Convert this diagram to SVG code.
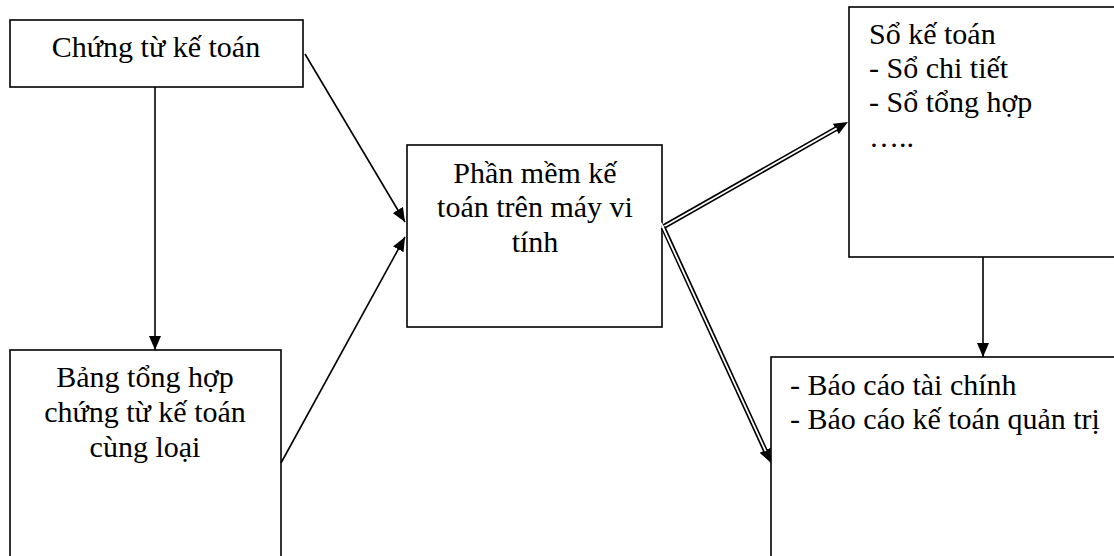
<svg xmlns="http://www.w3.org/2000/svg" width="1114" height="556" viewBox="0 0 1114 556">
<style>
.box{fill:#fff;stroke:#000;stroke-width:1.6}
.t{font-family:"Liberation Serif","Times New Roman",serif;font-size:30px;fill:#000}
.c{text-anchor:middle}
.ln{fill:none;stroke:#000;stroke-width:1.6}
.dbo{fill:none;stroke:#000;stroke-width:5}
.dbi{fill:none;stroke:#fff;stroke-width:1.8}
</style>
<defs>
<marker id="arr" markerUnits="userSpaceOnUse" markerWidth="16" markerHeight="14" refX="14" refY="6" orient="auto">
<path d="M0,0 L14,6 L0,12 z" fill="#000"/>
</marker>
<marker id="arrD" markerUnits="userSpaceOnUse" markerWidth="16" markerHeight="14" refX="4" refY="6" orient="auto">
<path d="M0,0 L14,6 L0,12 z" fill="#000"/>
</marker>
</defs>
<rect width="1114" height="556" fill="#fff"/>
<g id="n1">
<rect class="box" x="10" y="20" width="293" height="67"/>
<text class="t c" x="156" y="57">Chứng từ kế toán</text>
</g>
<g id="n2">
<rect class="box" x="10" y="350" width="271" height="210"/>
<text class="t c" x="145" y="387">Bảng tổng hợp</text>
<text class="t c" x="145" y="422">chứng từ kế toán</text>
<text class="t c" x="145" y="457">cùng loại</text>
</g>
<g id="n3">
<rect class="box" x="407" y="145" width="255" height="182"/>
<text class="t c" x="535" y="183">Phần mềm kế</text>
<text class="t c" x="535" y="217">toán trên máy vi</text>
<text class="t c" x="535" y="252">tính</text>
</g>
<g id="n4">
<rect class="box" x="849" y="7" width="280" height="250"/>
<text class="t" x="869" y="44">Sổ kế toán</text>
<text class="t" x="869" y="78">- Sổ chi tiết</text>
<text class="t" x="869" y="112">- Sổ tổng hợp</text>
<text class="t" x="869" y="147">…..</text>
</g>
<g id="n5">
<rect class="box" x="771" y="357" width="360" height="220"/>
<text class="t" x="790" y="395">- Báo cáo tài chính</text>
<text class="t" x="790" y="429">- Báo cáo kế toán quản trị</text>
</g>
<g id="connectors">
<line class="ln" x1="155" y1="87" x2="155" y2="350" marker-end="url(#arr)"/>
<line class="ln" x1="305" y1="54" x2="405" y2="222" marker-end="url(#arr)"/>
<line class="ln" x1="281" y1="463" x2="405" y2="237" marker-end="url(#arr)"/>
<line class="ln" x1="983" y1="257" x2="983" y2="357" marker-end="url(#arr)"/>
<line class="dbo" x1="663" y1="227" x2="839.3" y2="126.9" marker-end="url(#arrD)"/>
<line class="dbi" x1="660" y1="228.7" x2="836.7" y2="128.4"/>
<line class="dbo" x1="663" y1="227" x2="766.8" y2="453.9" marker-end="url(#arrD)"/>
<line class="dbi" x1="661" y1="223" x2="765.6" y2="451.2"/>
</g>
</svg>
